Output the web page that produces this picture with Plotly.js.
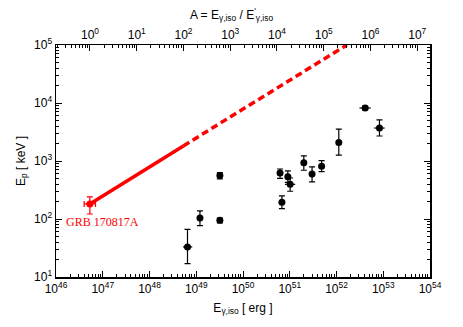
<!DOCTYPE html>
<html>
<head>
<meta charset="utf-8">
<script src="https://cdn.plot.ly/plotly-3.0.1.min.js"></script>
<style>
  html, body { margin: 0; padding: 0; background: #fff; }
  #chart { width: 463px; height: 327px; }
</style>
</head>
<body>
<div id="chart"></div>
<script>
// GRB sample: E_gamma,iso [erg] vs E_p [keV]
const eIso      = [6.5e48, 1.2e49, 3.2e49, 3.2e49, 6.2e50, 6.8e50, 9.1e50, 1.02e51, 2.0e51, 3.0e51, 4.8e51, 1.12e52, 4.1e52, 8.3e52];
const eIsoPlus  = [1.7e48, 1.8e48, 1.5e48, 1.5e48, 3e49,   3e49,   4e49,   2.9e50,  9e49,   1.4e50, 2.2e50, 5e50,    1.3e52, 2.4e52];
const eIsoMinus = [1.3e48, 1.6e48, 1.5e48, 1.5e48, 3e49,   3e49,   4e49,   2.3e50,  9e49,   1.4e50, 2.2e50, 5e50,    1.0e52, 1.9e52];
const ePeak     = [33, 104, 560, 95, 620, 194, 537, 396, 935, 597, 811, 2090, 8200, 3700];
const ePeakPlus = [33, 34, 70, 9, 108, 56, 139, 113, 295, 197, 201, 1460, 600, 1430];
const ePeakMinus= [16, 27, 70, 9, 119, 43, 110, 95, 243, 160, 156, 830, 600, 1000];

// GRB 170817A
const grbE = [5.3e46], grbEPlus = [1.7e46], grbEMinus = [1.3e46];
const grbEp = [182], grbEpPlus = [58], grbEpMinus = [60];

// off-axis track of GRB 170817A (solid up to A = 100, dashed beyond)
const solidE  = [5.3e46, 5.3e48];
const solidEp = [182, 1820];
const dashE   = [5.3e48, 1.66e52];
const dashEp  = [1820, 1.0e5];

const xPowers = [46, 47, 48, 49, 50, 51, 52, 53, 54];
const yPowers = [1, 2, 3, 4, 5];
const aPowers = [0, 1, 2, 3, 4, 5, 6, 7];

const xRange = [46, 54];
const yRange = [1, 5];
const aRange = [-0.727, 7.273];

// major ticks at the decades, minor ticks at 2..9 within each decade
function decades(powers) { return powers.map(p => Math.pow(10, p)); }
function minors(lo, hi) {
    const out = [];
    for (let p = lo; p <= hi; p++) {
        for (let m = 2; m <= 9; m++) out.push(m * Math.pow(10, p));
    }
    return out;
}
function labels(powers) { return powers.map(p => '10<sup>' + p + '</sup>'); }

const xMinor = minors(46, 53);
const yMinor = minors(1, 4);
const aMinor = minors(-1, 7);

const traces = [
    {
        x: solidE, y: solidEp, type: 'scatter', mode: 'lines',
        line: { color: '#ff0000', width: 3.5 }, hoverinfo: 'skip'
    },
    {
        x: dashE, y: dashEp, type: 'scatter', mode: 'lines',
        line: { color: '#ff0000', width: 3.5, dash: '7px,4px' }, hoverinfo: 'skip'
    },
    {
        x: eIso, y: ePeak, type: 'scatter', mode: 'markers',
        marker: { color: '#000', size: 7 },
        error_x: { type: 'data', symmetric: false, array: eIsoPlus, arrayminus: eIsoMinus, color: '#000', thickness: 1.2, width: 0 },
        error_y: { type: 'data', symmetric: false, array: ePeakPlus, arrayminus: ePeakMinus, color: '#000', thickness: 1.2, width: 3 }
    },
    {
        x: grbE, y: grbEp, type: 'scatter', mode: 'markers',
        marker: { color: '#ff0000', size: 7 },
        error_x: { type: 'data', symmetric: false, array: grbEPlus, arrayminus: grbEMinus, color: '#ff0000', thickness: 1.2, width: 3 },
        error_y: { type: 'data', symmetric: false, array: grbEpPlus, arrayminus: grbEpMinus, color: '#ff0000', thickness: 1.2, width: 3 }
    },
    // invisible traces that carry the top A axis and the minor-tick axes
    { x: [1, 1e7], y: [100, 100], xaxis: 'x2', yaxis: 'y', type: 'scatter', mode: 'markers', marker: { opacity: 0 }, hoverinfo: 'skip' },
    { x: [1e47, 1e53], y: [100, 100], xaxis: 'x3', yaxis: 'y', type: 'scatter', mode: 'markers', marker: { opacity: 0 }, hoverinfo: 'skip' },
    { x: [1, 1e7], y: [100, 100], xaxis: 'x4', yaxis: 'y', type: 'scatter', mode: 'markers', marker: { opacity: 0 }, hoverinfo: 'skip' },
    { x: [1e47, 1e53], y: [100, 100], xaxis: 'x', yaxis: 'y2', type: 'scatter', mode: 'markers', marker: { opacity: 0 }, hoverinfo: 'skip' }
];

const axisFont = { family: 'Liberation Sans, Arial, sans-serif', size: 12, color: '#000' };

function minorAxis(range, vals, extra) {
    return Object.assign({
        type: 'log', range: range,
        tickmode: 'array', tickvals: vals, ticktext: vals.map(() => ''),
        ticks: 'inside', ticklen: 3, tickcolor: '#000', tickwidth: 1,
        showline: false, showgrid: false, zeroline: false, showticklabels: false
    }, extra);
}

const layout = {
    width: 463, height: 327,
    margin: { l: 56, r: 33, t: 45, b: 50 },
    paper_bgcolor: '#fff', plot_bgcolor: 'rgba(0,0,0,0)',
    showlegend: false,
    font: axisFont,
    title: {
        text: 'A = E<sub>γ,iso</sub> / E<sup>\'</sup><sub>γ,iso</sub>',
        font: { family: 'Liberation Sans, Arial, sans-serif', size: 12, color: '#000' },
        xref: 'container', yref: 'container', x: 0.5, y: 0.955, xanchor: 'center', yanchor: 'middle'
    },
    xaxis: {
        type: 'log', range: xRange,
        tickmode: 'array', tickvals: decades(xPowers), ticktext: labels(xPowers),
        ticks: 'inside', ticklen: 6, tickcolor: '#000', tickwidth: 1,
        showline: true, linecolor: '#000', linewidth: 1.5,
        showgrid: false, zeroline: false,
        tickfont: axisFont,
        title: { text: 'E<sub>γ,iso</sub> [ erg ]', font: axisFont, standoff: 8 }
    },
    xaxis2: {
        type: 'log', range: aRange,
        overlaying: 'x', side: 'top', anchor: 'y',
        tickmode: 'array', tickvals: decades(aPowers), ticktext: labels(aPowers),
        ticks: 'inside', ticklen: 6, tickcolor: '#000', tickwidth: 1,
        showline: true, linecolor: '#000', linewidth: 1.5,
        showgrid: false, zeroline: false,
        tickfont: axisFont
    },
    xaxis3: minorAxis(xRange, xMinor, { overlaying: 'x', side: 'bottom', anchor: 'y' }),
    xaxis4: minorAxis(aRange, aMinor, { overlaying: 'x', side: 'top', anchor: 'y' }),
    yaxis: {
        type: 'log', range: yRange,
        tickmode: 'array', tickvals: decades(yPowers), ticktext: labels(yPowers),
        ticks: 'inside', ticklen: 6, tickcolor: '#000', tickwidth: 1,
        showline: true, linecolor: '#000', linewidth: 1.5, mirror: 'ticks',
        showgrid: false, zeroline: false,
        tickfont: axisFont,
        title: { text: 'E<sub>p</sub> [ keV ]', font: axisFont, standoff: 6 }
    },
    yaxis2: minorAxis(yRange, yMinor, { overlaying: 'y', side: 'left', anchor: 'x', mirror: 'ticks', showline: true, linecolor: 'rgba(0,0,0,0)' }),
    annotations: [
        {
            text: 'GRB 170817A', xref: 'x', yref: 'y',
            x: 46.984, y: 1.948, showarrow: false,
            font: { family: 'Liberation Serif, Times New Roman, serif', size: 12, color: '#ff0000' }
        }
    ]
};

Plotly.newPlot('chart', traces, layout, { displayModeBar: false, staticPlot: true });
</script>
</body>
</html>
